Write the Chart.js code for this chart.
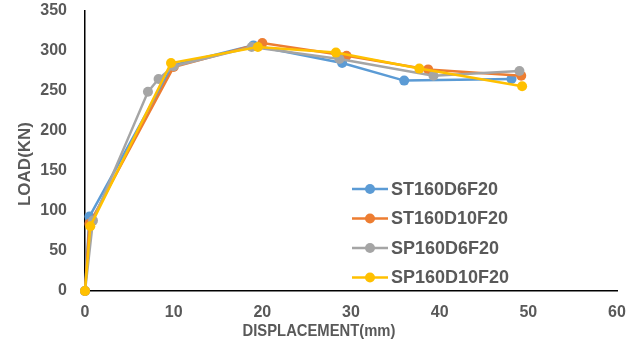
<!DOCTYPE html>
<html>
<head>
<meta charset="utf-8">
<script src="https://cdn.jsdelivr.net/npm/chart.js@4.4.1/dist/chart.umd.min.js"></script>
<style>
  html, body { margin: 0; padding: 0; background: #fff; }
</style>
</head>
<body>
<canvas id="chartLoad" width="635" height="347"></canvas>
<script>
    // valores (desplazamiento en mm, carga en kN)
    const seriesNames = ['ST160D6F20', 'ST160D10F20', 'SP160D6F20', 'SP160D10F20'];
    const seriesColors = ['#5B9BD5', '#ED7D31', '#A5A5A5', '#FFC000'];

    const st6X  = [0, 0.5, 9.9, 19, 29, 36, 48.1];
    const st6Y  = [0, 93, 282, 307, 285, 263, 265];
    const st10X = [0, 0.5, 10, 20, 29.5, 38.7, 49.2];
    const st10Y = [0, 84, 280, 310, 294, 277, 269];
    const sp6X  = [0, 0.9, 7.1, 8.3, 10, 18.8, 28.7, 39.3, 49];
    const sp6Y  = [0, 88, 249, 265, 281, 305, 290, 269, 275];
    const sp10X = [0, 0.6, 9.7, 19.5, 28.3, 37.7, 49.3];
    const sp10Y = [0, 81, 285, 305, 298, 278, 256];

    const xTicks = [0, 10, 20, 30, 40, 50, 60];
    const yTicks = [0, 50, 100, 150, 200, 250, 300, 350];

    const xTitle = 'DISPLACEMENT(mm)';
    const yTitle = 'LOAD(KN)';

    const allX = [st6X, st10X, sp6X, sp10X];
    const allY = [st6Y, st10Y, sp6Y, sp10Y];

    const datasets = seriesNames.map((name, i) => ({
        label: name,
        data: allX[i].map((x, k) => ({ x, y: allY[i][k] })),
        borderColor: seriesColors[i],
        backgroundColor: seriesColors[i],
        pointBackgroundColor: seriesColors[i],
        pointBorderColor: seriesColors[i],
        borderWidth: 2.5,
        pointRadius: 5,
        pointBorderWidth: 0,
        tension: 0,
        clip: false,
        order: seriesNames.length - i
    }));

    const txtColor = '#595959';

    // titulos de ejes y leyenda dibujados dentro del canvas
    const extras = {
        id: 'extras',
        afterDraw(chart) {
            const { ctx } = chart;
            ctx.save();
            ctx.fillStyle = txtColor;
            ctx.textAlign = 'center';
            ctx.textBaseline = 'middle';
            ctx.font = 'bold 17px "Liberation Sans", Arial, sans-serif';
            // titulo X algo mas angosto, como en el original
            ctx.save();
            ctx.translate(319, 331);
            ctx.scale(0.87, 1);
            ctx.fillText(xTitle, 0, 0);
            ctx.restore();
            ctx.translate(25, 164);
            ctx.rotate(-Math.PI / 2);
            ctx.fillText(yTitle, 0, 0);
            ctx.restore();

            ctx.save();
            ctx.font = 'bold 18px "Liberation Sans", Arial, sans-serif';
            ctx.textBaseline = 'middle';
            seriesNames.forEach((name, i) => {
                const y = 189 + i * 29.5;
                ctx.strokeStyle = seriesColors[i];
                ctx.lineWidth = 2.5;
                ctx.beginPath();
                ctx.moveTo(352, y);
                ctx.lineTo(388, y);
                ctx.stroke();
                ctx.fillStyle = seriesColors[i];
                ctx.beginPath();
                ctx.arc(370, y, 5, 0, Math.PI * 2);
                ctx.fill();
                ctx.fillStyle = txtColor;
                ctx.fillText(name, 391, y + 1);
            });
            ctx.restore();
        }
    };

    const tickFont = { family: 'Liberation Sans', size: 16, weight: 'bold' };

    const ctx = document.getElementById('chartLoad').getContext('2d');
    new Chart(ctx, {
        type: 'line',
        data: { datasets },
        options: {
            responsive: false,
            animation: false,
            layout: { padding: { top: 11, right: 18, left: 0, bottom: 0 } },
            plugins: { legend: { display: false }, tooltip: { enabled: false } },
            scales: {
                x: {
                    type: 'linear',
                    min: 0, max: 60,
                    afterBuildTicks: s => { s.ticks = xTicks.map(v => ({ value: v })); },
                    afterFit: s => { s.height = 56; s.paddingLeft = 0; s.paddingRight = 0; },
                    grid: { display: false, drawTicks: false },
                    border: { display: true, color: '#000', width: 1.5 },
                    ticks: { padding: 12, color: txtColor, font: tickFont }
                },
                y: {
                    min: 0, max: 350,
                    afterBuildTicks: s => { s.ticks = yTicks.map(v => ({ value: v })); },
                    afterFit: s => { s.width = 85; s.paddingTop = 0; s.paddingBottom = 0; },
                    grid: { display: false, drawTicks: false },
                    border: { display: true, color: '#000', width: 1.5 },
                    ticks: { padding: 18, color: txtColor, font: tickFont }
                }
            }
        },
        plugins: [extras]
    });
</script>
</body>
</html>
